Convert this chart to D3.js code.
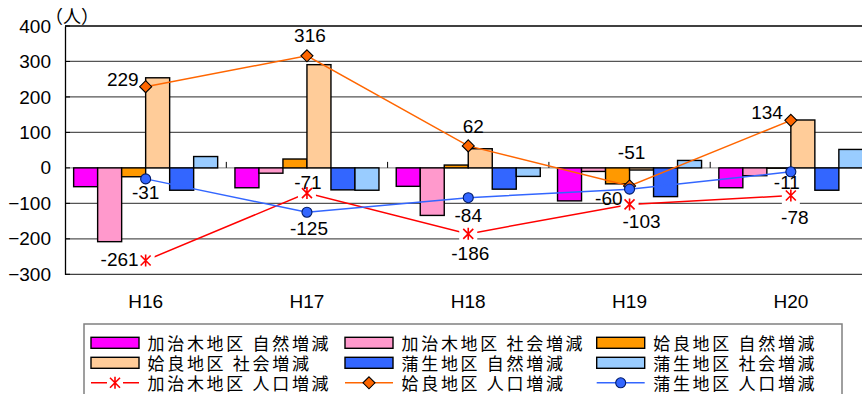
<!DOCTYPE html>
<html>
<head>
<meta charset="utf-8">
<script src="https://cdn.jsdelivr.net/npm/d3@7"></script>
<style>
  html, body { margin: 0; padding: 0; background: #fff; }
  svg { display: block; }
  .num { font-family: "Liberation Sans", Arial, sans-serif; font-size: 19px; fill: #000; }
  .jp { font-family: "Noto Sans CJK JP", sans-serif; font-size: 17px; fill: #000; letter-spacing: 2.7px; }
</style>
</head>
<body>
<svg id="chart" width="862" height="394"></svg>
<script>
// Fiscal years
const years = ["H16", "H17", "H18", "H19", "H20"];

// Bar series: natural / social change per district (persons)
const kajikiNatural = [-53, -56, -52, -93, -56];
const kajikiSocial  = [-208, -15, -134, -10, -22];
const airaNatural   = [-25, 25, 8, -45, -1];
const airaSocial    = [254, 291, 54, -6, 135];
const kamoNatural   = [-63, -62, -60, -81, -63];
const kamoSocial    = [32, -63, -24, 21, 52];

// Line series: total population change per district
const kajikiTotal = [-261, -71, -186, -103, -78];
const airaTotal   = [229, 316, 62, -51, 134];
const kamoTotal   = [-31, -125, -84, -60, -11];

const yTicks = [-300, -200, -100, 0, 100, 200, 300, 400];
const unitLabel = "（人）";

const barSeries = [
  { name: "加治木地区 自然増減", values: kajikiNatural, color: "#FF00FF" },
  { name: "加治木地区 社会増減", values: kajikiSocial,  color: "#FF99CC" },
  { name: "姶良地区 自然増減",   values: airaNatural,   color: "#FF9900" },
  { name: "姶良地区 社会増減",   values: airaSocial,    color: "#FFCC99" },
  { name: "蒲生地区 自然増減",   values: kamoNatural,   color: "#3366FF" },
  { name: "蒲生地区 社会増減",   values: kamoSocial,    color: "#99CCFF" }
];

// Label placement for each line point: [dx, dy, anchor]
const lineSeries = [
  { name: "加治木地区 人口増減", values: kajikiTotal, color: "#FF0000", marker: "star",
    labels: [[-7, -1, "end"], [1, -11, "middle"], [2, 19, "middle"], [12, 17, "middle"], [4, 22, "middle"]] },
  { name: "姶良地区 人口増減", values: airaTotal, color: "#FF6600", marker: "diamond",
    labels: [[-7, -7, "end"], [3, -20, "middle"], [5, -20, "middle"], [2, -34, "middle"], [-8, -8, "end"]] },
  { name: "蒲生地区 人口増減", values: kamoTotal, color: "#3366FF", marker: "circle",
    labels: [[0, 13, "middle"], [2, 16, "middle"], [0, 18, "middle"], [-7, 9, "end"], [-4, 11, "middle"]] }
];

const svg = d3.select("#chart");
const plot = { left: 65, top: 26, bottom: 274.3, right: 65 + 5 * 161.3 };

const x = d3.scaleBand().domain(years).range([plot.left, plot.right]).paddingInner(0).paddingOuter(0);
const xInner = d3.scaleBand().domain(d3.range(barSeries.length)).range([0, x.bandwidth()]).paddingInner(0).paddingOuter(0.36);
const y = d3.scaleLinear().domain([-300, 400]).range([plot.bottom, plot.top]);

// Horizontal gridlines
svg.append("g").selectAll("line")
  .data(yTicks.filter(d => d !== 0))
  .join("line")
  .attr("x1", plot.left).attr("x2", plot.right)
  .attr("y1", d => y(d)).attr("y2", d => y(d))
  .attr("stroke", d => (d === 400 || d === -300) ? "#404040" : "#555")
  .attr("stroke-width", d => (d === 400) ? 1.8 : 1.2);

// Zero line (category axis) with tick marks between categories
svg.append("line")
  .attr("x1", plot.left).attr("x2", plot.right)
  .attr("y1", y(0)).attr("y2", y(0))
  .attr("stroke", "#999").attr("stroke-width", 1.2);
svg.append("g").selectAll("line")
  .data(years.slice(1))
  .join("line")
  .attr("x1", d => x(d)).attr("x2", d => x(d))
  .attr("y1", y(0) - 6).attr("y2", y(0))
  .attr("stroke", "#000").attr("stroke-width", 1);

// Value axis
const yAxis = d3.axisLeft(y).tickValues(yTicks).tickSize(0).tickPadding(14).tickFormat(d3.format("d"));
const yg = svg.append("g").attr("transform", `translate(${plot.left},0)`).call(yAxis);
yg.select(".domain").attr("stroke", "#000").attr("stroke-width", 1.3);
yg.selectAll("text").attr("class", "num").attr("font-family", null).attr("font-size", null);
svg.append("g").selectAll("line")
  .data(yTicks)
  .join("line")
  .attr("x1", plot.left).attr("x2", plot.left + 5)
  .attr("y1", d => y(d)).attr("y2", d => y(d))
  .attr("stroke", "#000").attr("stroke-width", 1);

// Unit label
svg.append("text").attr("class", "jp")
  .attr("x", 45).attr("y", 15).attr("dominant-baseline", "central")
  .style("letter-spacing", "0px").style("font-size", "18px")
  .text(unitLabel);

// Category labels
svg.append("g").selectAll("text")
  .data(years)
  .join("text")
  .attr("class", "num")
  .attr("x", d => x(d) + x.bandwidth() / 2)
  .attr("y", 301).attr("dy", "0.35em")
  .attr("text-anchor", "middle")
  .text(d => d);

// Bars
barSeries.forEach((s, i) => {
  svg.append("g").selectAll("rect")
    .data(years.map((yr, j) => ({ yr, v: s.values[j] })))
    .join("rect")
    .attr("x", d => x(d.yr) + xInner(i))
    .attr("width", xInner.bandwidth())
    .attr("y", d => y(Math.max(0, d.v)))
    .attr("height", d => Math.abs(y(d.v) - y(0)))
    .attr("fill", s.color)
    .attr("stroke", "#000").attr("stroke-width", 1.4);
});

// Marker drawing
function drawMarker(g, type, color, box) {
  if (type === "star") {
    const b = box || 9;
    g.append("rect").attr("x", -b).attr("y", -b).attr("width", 2 * b).attr("height", 2 * b).attr("fill", "#fff");
    g.append("path").attr("d", "M0,-6V6M-5,-5L5,5M-5,5L5,-5")
      .attr("stroke", color).attr("stroke-width", 1.6).attr("fill", "none");
  } else if (type === "diamond") {
    g.append("path").attr("d", "M0,-6L6,0L0,6L-6,0Z")
      .attr("fill", color).attr("stroke", "#000").attr("stroke-width", 1.1);
  } else {
    g.append("circle").attr("r", 5)
      .attr("fill", color).attr("stroke", "#001a66").attr("stroke-width", 1.1);
  }
}

const cx = yr => x(yr) + x.bandwidth() / 2;

lineSeries.forEach(s => {
  const pts = years.map((yr, j) => ({ yr, v: s.values[j], lab: s.labels[j] }));
  const g = svg.append("g");
  g.append("path")
    .datum(pts)
    .attr("d", d3.line().x(d => cx(d.yr)).y(d => y(d.v)))
    .attr("fill", "none").attr("stroke", s.color).attr("stroke-width", 1.5);
  pts.forEach(p => {
    drawMarker(g.append("g").attr("transform", `translate(${cx(p.yr)},${y(p.v)})`), s.marker, s.color);
  });
  s.pts = pts;
});

// Data labels on top
lineSeries.forEach(s => {
  svg.append("g").selectAll("text")
    .data(s.pts)
    .join("text")
    .attr("class", "num")
    .attr("x", d => cx(d.yr) + d.lab[0])
    .attr("y", d => y(d.v) + d.lab[1])
    .attr("dy", "0.35em")
    .attr("text-anchor", d => d.lab[2])
    .text(d => d.v);
});

// Legend
const legend = svg.append("g");
legend.append("rect")
  .attr("x", 84).attr("y", 324).attr("width", 758).attr("height", 90)
  .attr("fill", "#fff").attr("stroke", "#808080").attr("stroke-width", 1.5);

const legendItems = barSeries.map(s => ({ ...s, kind: "bar" }))
  .concat(lineSeries.map(s => ({ ...s, kind: "line" })));
const colX = [91, 345, 596.7];
const rowY = [342.8, 362.8, 382.8];

legendItems.forEach((s, i) => {
  const lx = colX[i % 3], ly = rowY[Math.floor(i / 3)];
  const g = legend.append("g");
  if (s.kind === "bar") {
    g.append("rect").attr("x", lx).attr("y", ly - 5.5).attr("width", 48).attr("height", 11)
      .attr("fill", s.color).attr("stroke", "#000").attr("stroke-width", 1.4);
  } else {
    g.append("line").attr("x1", lx).attr("x2", lx + 48).attr("y1", ly).attr("y2", ly)
      .attr("stroke", s.color).attr("stroke-width", 1.5);
    drawMarker(g.append("g").attr("transform", `translate(${lx + 24},${ly})`), s.marker, s.color, 8);
  }
  g.append("text").attr("class", "jp")
    .attr("x", lx + 56.5).attr("y", ly).attr("dominant-baseline", "central")
    .text(s.name);
});
</script>
</body>
</html>
